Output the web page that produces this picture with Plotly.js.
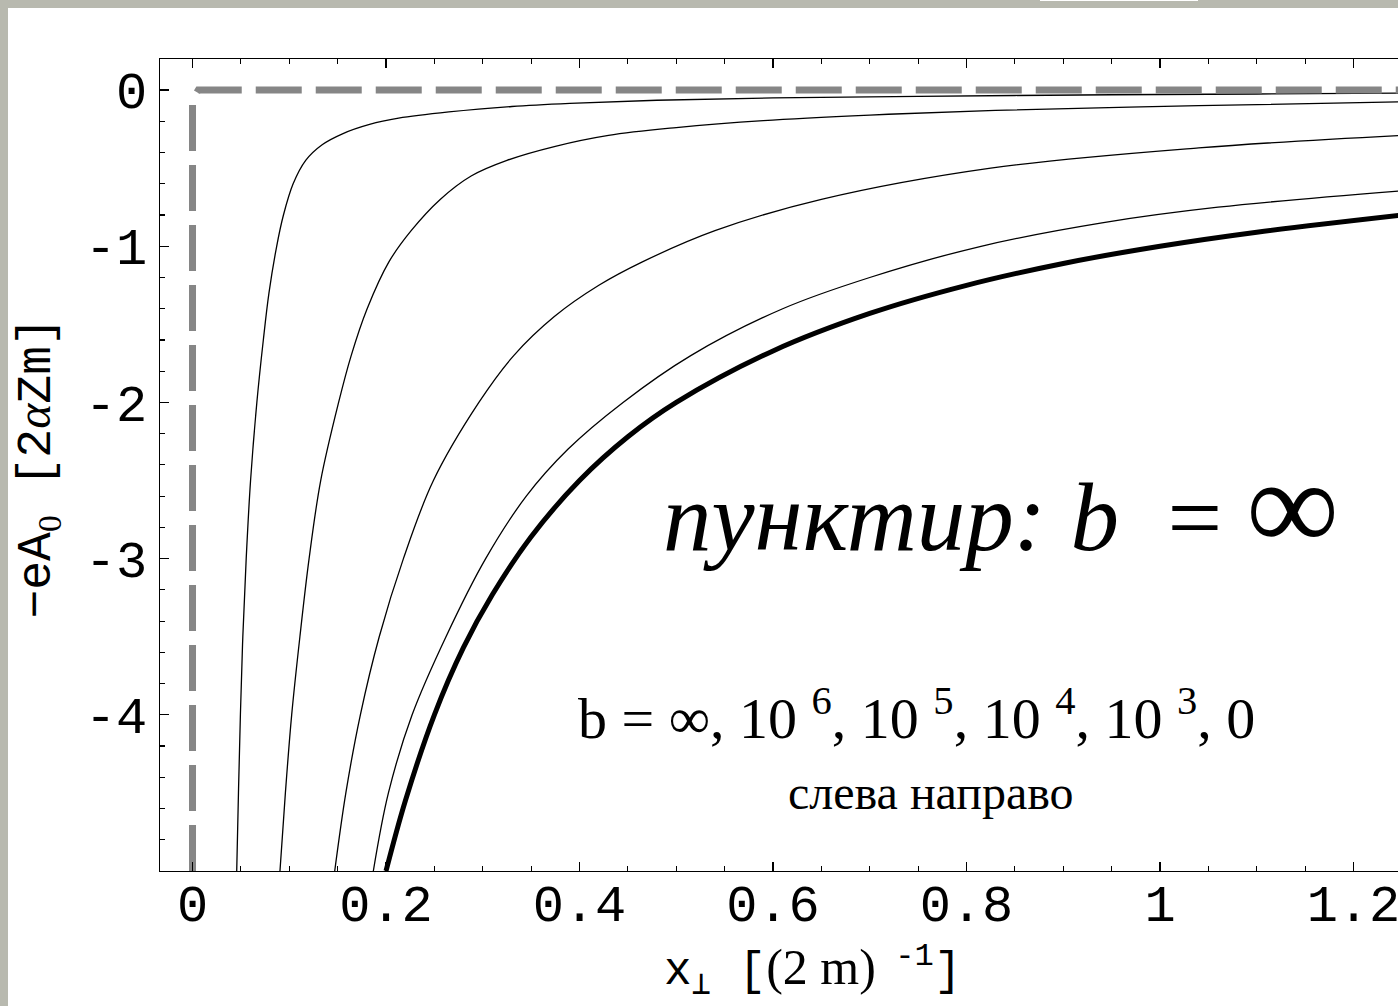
<!DOCTYPE html>
<html>
<head>
<meta charset="utf-8">
<script src="https://cdn.plot.ly/plotly-3.0.1.min.js"></script>
<style>
  html, body { margin: 0; padding: 0; background: #b8b9af; width: 1398px; height: 1006px; overflow: hidden; }
  #plot { position: absolute; left: 8px; top: 8px; width: 1390px; height: 998px; background: #fff; }
  #notch { position: absolute; left: 1040px; top: 0; width: 158px; height: 1px; background: #fff; }
</style>
</head>
<body>
<div id="notch"></div>
<div id="plot"></div>
<script>
// Potential -eA0 of a nucleus vs transverse distance for several b values.
// b = infinity (dashed step)
const xInf = [0, 0, 0.006, 1.3];
const yInf = [-5, -0.06, 0, 0];

// b = 10^6
const x1e6 = [0.0457, 0.0475, 0.0495, 0.052, 0.0555, 0.060, 0.0665, 0.0732, 0.079, 0.087, 0.094, 0.104, 0.117, 0.134, 0.155, 0.183, 0.213, 0.265, 0.33, 0.39, 0.48, 0.6, 0.75, 0.95, 1.1, 1.25];
const y1e6 = [-5.0, -4.5, -4.0, -3.5, -3.0, -2.5, -2.0, -1.6, -1.3, -1.0, -0.8, -0.6, -0.45, -0.35, -0.28, -0.22, -0.18, -0.14, -0.105, -0.085, -0.065, -0.05, -0.04, -0.03, -0.025, -0.02];

// b = 10^5
const x1e5 = [0.0904, 0.096, 0.1025, 0.111, 0.1205, 0.1325, 0.151, 0.164, 0.1805, 0.203, 0.226, 0.256, 0.288, 0.325, 0.375, 0.43, 0.5, 0.59, 0.7, 0.83, 1.04, 1.25];
const y1e5 = [-5.0, -4.5, -4.0, -3.5, -3.0, -2.5, -2.0, -1.7, -1.4, -1.1, -0.9, -0.7, -0.55, -0.45, -0.36, -0.29, -0.24, -0.195, -0.16, -0.13, -0.1, -0.075];

// b = 10^4
const x1e4 = [0.147, 0.1585, 0.1735, 0.193, 0.218, 0.249, 0.296, 0.332, 0.374, 0.42, 0.465, 0.54, 0.65, 0.825, 1.04, 1.25];
const y1e4 = [-5.0, -4.5, -4.0, -3.5, -3.0, -2.5, -2.0, -1.7, -1.45, -1.25, -1.1, -0.9, -0.7, -0.5, -0.37, -0.29];

// b = 10^3
const x1e3 = [0.1869, 0.2025, 0.227, 0.262, 0.303, 0.345, 0.388, 0.445, 0.515, 0.61, 0.70, 0.815, 0.94, 1.06, 1.25];
const y1e3 = [-5.0, -4.5, -4.0, -3.5, -3.0, -2.6, -2.3, -2.0, -1.7, -1.4, -1.2, -1.0, -0.85, -0.75, -0.645];

// b = 0 (pure Coulomb, thick)
const xZero = [0.2, 0.22, 0.25, 0.28, 0.31, 0.35, 0.4, 0.45, 0.5, 0.6, 0.7, 0.8, 0.9, 1.0, 1.1, 1.25];
const yZero = [-5.0, -4.55, -4.0, -3.57, -3.23, -2.86, -2.5, -2.22, -2.0, -1.67, -1.43, -1.25, -1.11, -1.0, -0.91, -0.80];

const xTickVals = [0, 0.2, 0.4, 0.6, 0.8, 1, 1.2];
const xTickText = ['0', '0.2', '0.4', '0.6', '0.8', '1', '1.2'];
const yTickVals = [0, -1, -2, -3, -4];
const yTickText = ['0', '-1', '-2', '-3', '-4'];

const thin = { color: '#000', width: 1.3, shape: 'spline', smoothing: 1 };

const traces = [
  { x: x1e6, y: y1e6, mode: 'lines', line: thin, name: 'b = 10^6' },
  { x: x1e5, y: y1e5, mode: 'lines', line: thin, name: 'b = 10^5' },
  { x: x1e4, y: y1e4, mode: 'lines', line: thin, name: 'b = 10^4' },
  { x: x1e3, y: y1e3, mode: 'lines', line: thin, name: 'b = 10^3' },
  { x: xZero, y: yZero, mode: 'lines', line: { color: '#000', width: 5, shape: 'spline', smoothing: 1 }, name: 'b = 0' },
  { x: xInf, y: yInf, mode: 'lines', line: { color: '#868686', width: 7, dash: '46px,14px' }, name: 'b = ∞' }
];

const mono = 'Liberation Mono, Courier New, monospace';
const serif = 'Liberation Serif, Times New Roman, serif';
const tickFont = { family: mono, size: 52, color: '#000' };

const layout = {
  width: 1390,
  height: 998,
  margin: { l: 152, r: 0, t: 51, b: 135 },
  paper_bgcolor: '#fff',
  plot_bgcolor: '#fff',
  showlegend: false,
  xaxis: {
    range: [-0.0336, 1.246],
    showline: true, linecolor: '#000', linewidth: 1.3, mirror: 'ticks',
    ticks: 'inside', ticklen: 9, tickwidth: 1.3, tickcolor: '#000',
    tickmode: 'array', tickvals: xTickVals, ticktext: xTickText,
    minor: { ticks: 'inside', ticklen: 5, tickwidth: 1.1, tickcolor: '#000', tickmode: 'linear', tick0: 0, dtick: 0.05, showgrid: false },
    showgrid: false, zeroline: false,
    tickfont: tickFont,
    ticklabelstandoff: -14,
    ticklabeloverflow: 'allow'
  },
  yaxis: {
    range: [-5, 0.199],
    showline: true, linecolor: '#000', linewidth: 1.3, mirror: false,
    ticks: 'inside', ticklen: 9, tickwidth: 1.3, tickcolor: '#000',
    tickmode: 'array', tickvals: yTickVals, ticktext: yTickText,
    minor: { ticks: 'inside', ticklen: 5, tickwidth: 1.1, tickcolor: '#000', tickmode: 'linear', tick0: 0, dtick: 0.2, showgrid: false },
    showgrid: false, zeroline: false,
    tickfont: tickFont,
    ticklabelstandoff: 1
  },
  annotations: [
    {
      // x-axis title, placed under the tick labels
      x: 0.6404, y: 0, xref: 'x', yref: 'paper', xanchor: 'center', yanchor: 'middle', yshift: -100, showarrow: false,
      text: "x<sub>⊥</sub> [<span style=\"font-family:'Liberation Serif';font-size:50px\">(2 m)</span><sup> -1</sup>]",
      font: { family: mono, size: 46, color: '#000' }
    },
    {
      // y-axis title, rotated, left of the tick labels
      x: 0, y: -2.423, xref: 'paper', yref: 'y', xanchor: 'center', yanchor: 'middle', xshift: -123, textangle: -90, showarrow: false,
      text: "−eA<sub><span style=\"font-family:'Liberation Serif'\">0</span></sub> [2<span style=\"font-family:'Liberation Serif'\"><i>α</i></span>Zm]",
      font: { family: mono, size: 48, color: '#000' }
    },
    {
      x: 0.8357, y: -2.66, xref: 'x', yref: 'y', xanchor: 'center', yanchor: 'middle', showarrow: false,
      text: "<i>пунктир:</i> <i>b</i>  = <span style=\"font-size:130px\">∞</span>",
      font: { family: serif, size: 97, color: '#000' }
    },
    {
      x: 0.748, y: -4.0, xref: 'x', yref: 'y', xanchor: 'center', yanchor: 'middle', showarrow: false,
      text: 'b = ∞, 10 <sup>6</sup>, 10 <sup>5</sup>, 10 <sup>4</sup>, 10 <sup>3</sup>, 0',
      font: { family: serif, size: 58, color: '#000' }
    },
    {
      x: 0.763, y: -4.5, xref: 'x', yref: 'y', xanchor: 'center', yanchor: 'middle', showarrow: false,
      text: 'слева направо',
      font: { family: serif, size: 48, color: '#000' }
    }
  ]
};

Plotly.newPlot('plot', traces, layout, { staticPlot: true, displayModeBar: false });
</script>
</body>
</html>
